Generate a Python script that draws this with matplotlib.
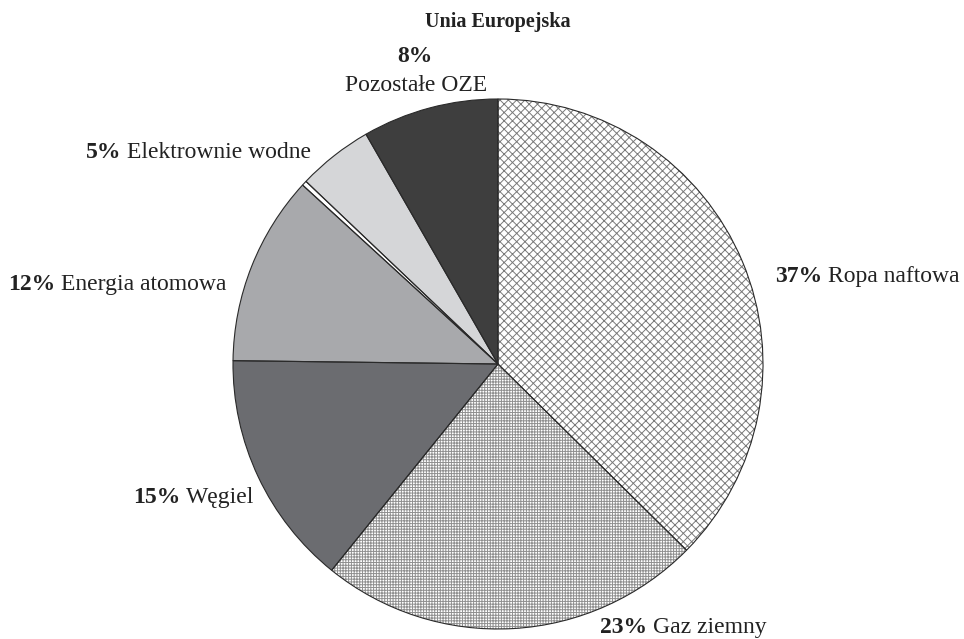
import matplotlib
matplotlib.use('Agg')
import matplotlib.pyplot as plt

# ---- data ----
title = 'Unia Europejska'
categories = ['Ropa naftowa', 'Gaz ziemny', 'Węgiel', 'Energia atomowa', '',
              'Elektrownie wodne', 'Pozostałe OZE']
shares = [37.4, 23.4, 14.4, 11.6, 0.3, 4.6, 8.3]
pct_labels = ['37%', '23%', '15%', '12%', '', '5%', '8%']

# ---- styles ----
fill_colors = ['white', 'white', '#6b6c70', '#a8a9ac', 'white', '#d5d6d8', '#3e3e3e']
hatches = ['xxxx', '++++++', None, None, None, None, None]
hatch_colors = ['#7a7a7a', '#909090', None, None, None, None, None]

plt.rcParams['font.family'] = ['Liberation Serif', 'DejaVu Serif']
plt.rcParams['hatch.linewidth'] = 0.7

W, H = 964, 639
fig = plt.figure(figsize=(W / 100, H / 100), dpi=100)
ax = fig.add_axes([0, 0, 1, 1])

cx, cy, r = 498, H - 364, 265

wedges, _ = ax.pie(shares, colors=fill_colors, startangle=90, counterclock=False,
                   center=(cx, cy), radius=r, frame=True,
                   wedgeprops=dict(linewidth=0))
for w, h, hc in zip(wedges, hatches, hatch_colors):
    if h:
        w.set_hatch(h)
        w.set_edgecolor(hc)
        w.set_linewidth(0)

ax.pie(shares, colors=['none'] * len(shares), startangle=90, counterclock=False,
       center=(cx, cy), radius=r, frame=True,
       wedgeprops=dict(linewidth=0.8, edgecolor='#2a2a2a', fill=False))

ax.set_xlim(0, W)
ax.set_ylim(0, H)
ax.set_aspect('equal')
ax.axis('off')

fs = 17
# label layout: (left x, baseline y) in pixel coords from top
label_pos = {0: (775, 282), 1: (600, 633), 2: (133, 503), 3: (8, 290), 5: (86, 158)}
for i, (x, yb) in label_pos.items():
    t1 = ax.text(x, H - yb, pct_labels[i], fontweight='bold', ha='left',
                 va='baseline', fontsize=fs, color='#222222')
    ax.annotate(categories[i], xy=(1, 0), xycoords=t1, xytext=(4, 0),
                textcoords='offset points', ha='left', va='bottom',
                fontsize=fs, color='#222222')

# Pozostałe OZE: two lines
ax.text(415, H - 62, pct_labels[6], fontweight='bold', ha='center', va='baseline',
        fontsize=fs, color='#222222')
ax.text(416, H - 91, categories[6], ha='center', va='baseline',
        fontsize=fs, color='#222222')

ax.text(498, H - 27, title, fontweight='bold', ha='center', va='baseline',
        fontsize=14.5, color='#222222')

fig.savefig('out.png', dpi=100)
